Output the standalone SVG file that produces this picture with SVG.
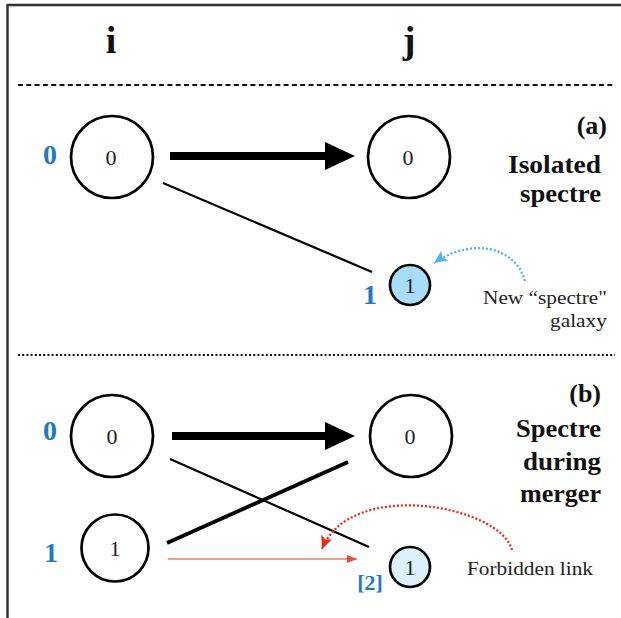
<svg xmlns="http://www.w3.org/2000/svg" width="621" height="618" viewBox="0 0 621 618">
<style>
.node{fill:#fff;stroke:#000;stroke-width:2.7}
.in{font-family:"Liberation Serif",serif;font-size:22px;fill:#222;text-anchor:middle}
.bl{font-family:"Liberation Serif",serif;font-weight:bold;font-size:28px;fill:#1f7bbf;text-anchor:middle}
.hd{font-family:"Liberation Serif",serif;font-weight:bold;font-size:38px;fill:#111;text-anchor:middle}
.lb{font-family:"Liberation Serif",serif;font-weight:bold;font-size:25px;fill:#111;text-anchor:end}
.nt{font-family:"Liberation Serif",serif;font-size:18px;fill:#222;text-anchor:end}
.thick{stroke:#000;stroke-width:8;fill:none}
.thin{stroke:#000;stroke-width:2.2;fill:none}
</style>
<defs>
<marker id="big" markerUnits="userSpaceOnUse" markerWidth="32" markerHeight="30" refX="0" refY="14" orient="auto">
<path d="M0,0 L30,14 L0,28 z" fill="#000"/>
</marker>
<marker id="redsm" markerUnits="userSpaceOnUse" markerWidth="12" markerHeight="10" refX="10" refY="4" orient="auto">
<path d="M0,0 L10,4 L0,8 z" fill="#ec4b38"/>
</marker>
<marker id="bluehd" markerUnits="userSpaceOnUse" markerWidth="16" markerHeight="14" refX="13" refY="6" orient="auto">
<path d="M0,0 L13,6 L0,12 L3,6 z" fill="#4fb0f0"/>
</marker>
<marker id="redhd" markerUnits="userSpaceOnUse" markerWidth="16" markerHeight="14" refX="13" refY="6" orient="auto">
<path d="M0,0 L13,6 L0,12 L3,6 z" fill="#e8291c"/>
</marker>
</defs>

<g id="frame">
<line x1="7.5" y1="5" x2="7.5" y2="618" stroke="#333" stroke-width="2.5"/>
<line x1="6.5" y1="5" x2="621" y2="5" stroke="#333" stroke-width="2.5"/>
<line x1="18" y1="85" x2="615" y2="85" stroke="#111" stroke-width="2" stroke-dasharray="5 3.3"/>
<line x1="18" y1="355" x2="615" y2="355" stroke="#111" stroke-width="2" stroke-dasharray="2 2.2"/>
</g>

<g id="headers">
<text class="hd" x="111" y="53">i</text>
<text class="hd" x="409" y="53">j</text>
</g>

<g id="connectors">
<line class="thick" x1="170" y1="156" x2="325" y2="156" marker-end="url(#big)"/>
<line class="thin" x1="163" y1="183" x2="372" y2="272"/>
<line class="thick" x1="172" y1="436" x2="325" y2="436" marker-end="url(#big)"/>
<line class="thin" x1="170" y1="459" x2="369" y2="547"/>
<line x1="167" y1="543" x2="348" y2="462" stroke="#000" stroke-width="3.8"/>
<line x1="168" y1="559" x2="357" y2="559" stroke="#f07a6a" stroke-width="1.6" marker-end="url(#redsm)"/>
<path d="M525,281 C515,245 470,238 434,263" fill="none" stroke="#4fb0f0" stroke-width="2.3" stroke-dasharray="2 2" marker-end="url(#bluehd)"/>
<path d="M512,550 C500,505 350,478 322,549" fill="none" stroke="#e8291c" stroke-width="2.3" stroke-dasharray="2 2" marker-end="url(#redhd)"/>
</g>

<g id="a-i0">
<circle class="node" cx="112" cy="157" r="41"/>
<text class="in" x="111" y="165">0</text>
<text class="bl" x="50" y="164">0</text>
</g>
<g id="a-j0">
<circle class="node" cx="409" cy="157" r="41"/>
<text class="in" x="408" y="165">0</text>
</g>
<g id="a-j1">
<circle class="node" cx="410" cy="285" r="20" style="fill:#a9dcf8"/>
<text class="in" x="410" y="293">1</text>
<text class="bl" x="370" y="304">1</text>
</g>
<g id="a-label">
<text class="lb" x="607" y="134" style="font-size:26px">(a)</text>
<text class="lb" x="601" y="173" textLength="93" lengthAdjust="spacingAndGlyphs">Isolated</text>
<text class="lb" x="601" y="202" textLength="81" lengthAdjust="spacingAndGlyphs">spectre</text>
</g>
<g id="a-note">
<text class="nt" x="607" y="304" textLength="124" lengthAdjust="spacingAndGlyphs">New “spectre"</text>
<text class="nt" x="607" y="327" textLength="57" lengthAdjust="spacingAndGlyphs">galaxy</text>
</g>

<g id="b-i0">
<circle class="node" cx="112" cy="436" r="41"/>
<text class="in" x="112" y="444">0</text>
<text class="bl" x="50" y="440">0</text>
</g>
<g id="b-i1">
<circle class="node" cx="115" cy="548" r="33.5"/>
<text class="in" x="115" y="556">1</text>
<text class="bl" x="51" y="562">1</text>
</g>
<g id="b-j0">
<circle class="node" cx="411" cy="436" r="41"/>
<text class="in" x="410" y="444">0</text>
</g>
<g id="b-j1">
<circle class="node" cx="410" cy="567" r="20" style="fill:#ddf1fc"/>
<text class="in" x="410" y="575">1</text>
<text class="bl" x="370" y="590" style="font-size:22px">[2]</text>
</g>
<g id="b-label">
<text class="lb" x="601" y="402" style="font-size:26px">(b)</text>
<text class="lb" x="601" y="437" textLength="85" lengthAdjust="spacingAndGlyphs">Spectre</text>
<text class="lb" x="601" y="469.5" textLength="78" lengthAdjust="spacingAndGlyphs">during</text>
<text class="lb" x="601" y="502" textLength="81" lengthAdjust="spacingAndGlyphs">merger</text>
</g>
<g id="b-note">
<text class="nt" x="593" y="575" style="font-size:19px" textLength="126" lengthAdjust="spacingAndGlyphs">Forbidden link</text>
</g>
</svg>
